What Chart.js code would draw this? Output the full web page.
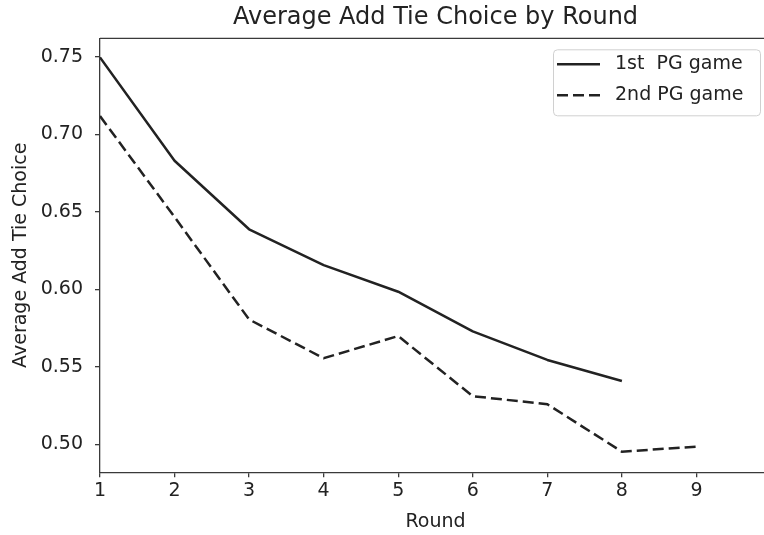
<!DOCTYPE html>
<html><head><meta charset="utf-8">
<script src="https://cdn.jsdelivr.net/npm/chart.js@4"></script>
<style>html,body{margin:0;padding:0;overflow:hidden;background:#fff}
#wrap{position:relative;width:771px;height:535px}</style></head>
<body><div id="wrap"><canvas id="c" width="771" height="535"></canvas></div>
<script>
const rounds = [1, 2, 3, 4, 5, 6, 7, 8, 9];
const firstGame = [0.7496, 0.6829, 0.6387, 0.6156, 0.5984, 0.5728, 0.5544, 0.5408, null];
const secondGame = [0.7117, 0.6466, 0.5805, 0.5555, 0.5698, 0.5310, 0.5258, 0.4952, 0.4985];
const seriesLabels = ['1st  PG game', '2nd PG game'];
const xTicks = [1, 2, 3, 4, 5, 6, 7, 8, 9];
const yTicks = [0.50, 0.55, 0.60, 0.65, 0.70, 0.75];
const chartTitle = 'Average Add Tie Choice by Round';
const xTitle = 'Round';
const yTitle = 'Average Add Tie Choice';

const FONT = "'DejaVu Sans', sans-serif";
const TXT = '#222';
const AX = '#3a3a3a';

const toPts = arr => rounds.map((r, i) => ({x: r, y: arr[i]})).filter(p => p.y !== null);

const framePlugin = {
  id: 'frame',
  afterDraw(chart) {
    const {ctx, chartArea: a} = chart;
    ctx.save();
    ctx.strokeStyle = AX;
    ctx.lineWidth = 1.3;
    ctx.beginPath();
    ctx.moveTo(a.left, a.top); ctx.lineTo(a.right, a.top); ctx.lineTo(a.right, a.bottom);
    ctx.stroke();
    // legend
    const bx = a.right - 218, by = a.top + 11, bw = 207, bh = 66;
    ctx.fillStyle = 'rgba(255,255,255,0.85)';
    ctx.strokeStyle = '#d0d0d0';
    ctx.lineWidth = 1;
    ctx.beginPath();
    if (ctx.roundRect) ctx.roundRect(bx + 0.5, by + 0.5, bw, bh, 4); else ctx.rect(bx + 0.5, by + 0.5, bw, bh);
    ctx.fill(); ctx.stroke();
    ctx.font = '19px ' + FONT;
    ctx.textBaseline = 'middle';
    ctx.textAlign = 'left';
    chart.data.datasets.forEach((ds, i) => {
      const yy = by + 15 + i * 31;
      ctx.strokeStyle = ds.borderColor;
      ctx.lineWidth = ds.borderWidth;
      ctx.setLineDash(ds.borderDash || []);
      ctx.beginPath();
      ctx.moveTo(bx + 4, yy); ctx.lineTo(bx + 47, yy);
      ctx.stroke();
      ctx.setLineDash([]);
      ctx.fillStyle = TXT;
      ctx.fillText(ds.label, bx + 62, yy);
    });
    ctx.restore();
  }
};

new Chart(document.getElementById('c'), {
  type: 'line',
  data: {
    datasets: [
      {label: seriesLabels[0], data: toPts(firstGame), borderColor: '#222', borderWidth: 2.5,
       pointRadius: 0, tension: 0, fill: false, borderJoinStyle: 'round'},
      {label: seriesLabels[1], data: toPts(secondGame), borderColor: '#222', borderWidth: 2.5,
       borderDash: [11, 5], pointRadius: 0, tension: 0, fill: false}
    ]
  },
  options: {
    responsive: false,
    animation: false,
    devicePixelRatio: 1,
    layout: {padding: 0},
    plugins: {
      legend: {display: false},
      tooltip: {enabled: false},
      title: {display: true, fullSize: false, text: chartTitle, color: TXT,
              font: {family: FONT, size: 24, weight: 'normal'}, padding: {top: 3, bottom: 6.5}}
    },
    scales: {
      x: {
        type: 'linear', min: 1, max: 10,
        afterBuildTicks: s => { s.ticks = xTicks.map(v => ({value: v})); },
        afterFit: s => { s.height = 62.7; },
        ticks: {color: TXT, font: {family: FONT, size: 19}, padding: 2, maxRotation: 0,
                callback: v => String(v)},
        grid: {drawOnChartArea: false, drawTicks: true, tickLength: 5, color: AX, lineWidth: 1.3},
        border: {display: true, color: AX, width: 1.3},
        title: {display: true, text: xTitle, color: TXT, font: {family: FONT, size: 19},
                padding: {top: 0, bottom: 2}}
      },
      y: {
        type: 'linear', min: 0.4819, max: 0.7619,
        afterBuildTicks: s => { s.ticks = yTicks.map(v => ({value: v})); },
        afterFit: s => { s.width = 100; },
        ticks: {color: TXT, font: {family: FONT, size: 19}, padding: 12,
                callback: v => Number(v).toFixed(2)},
        grid: {drawOnChartArea: false, drawTicks: true, tickLength: 5, color: AX, lineWidth: 1.3},
        border: {display: true, color: AX, width: 1.3},
        title: {display: true, text: yTitle, color: TXT, font: {family: FONT, size: 19},
                padding: {top: 10, bottom: 0}}
      }
    }
  },
  plugins: [framePlugin]
});
</script></body></html>
